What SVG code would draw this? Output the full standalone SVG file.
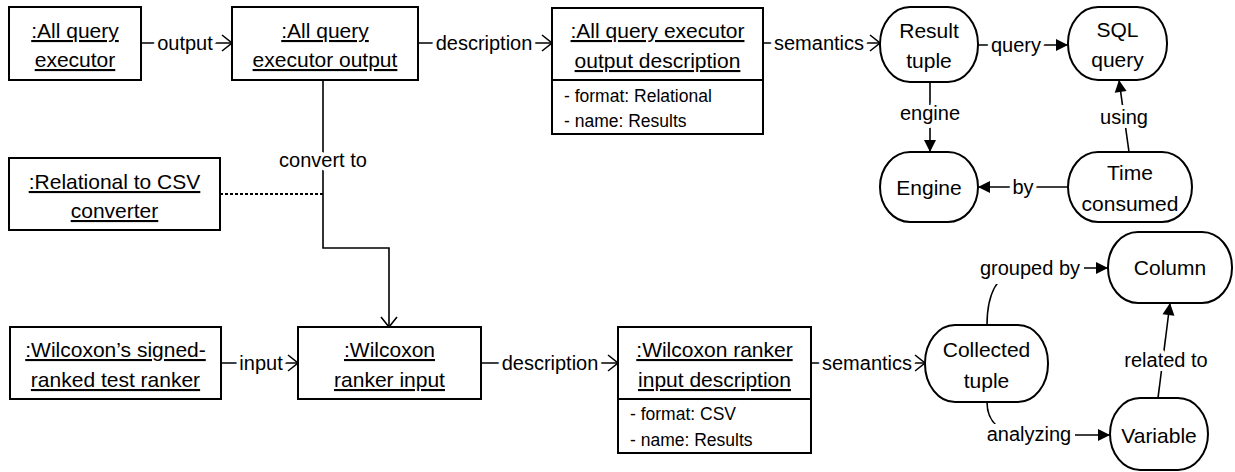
<svg xmlns="http://www.w3.org/2000/svg" width="1235" height="472" viewBox="0 0 1235 472">
<style>
.box{fill:#fff;stroke:#000;stroke-width:2}
.t{font-family:"Liberation Sans",Arial,sans-serif;font-size:21px;text-anchor:middle;fill:#000}
.u{text-decoration:underline}
.a{font-family:"Liberation Sans",Arial,sans-serif;font-size:17.5px;fill:#000}
.c{fill:none;stroke:#000;stroke-width:1.6}
.open{marker-end:url(#open)}
.fill{marker-end:url(#filled)}
.lbl{font-family:"Liberation Sans",Arial,sans-serif;font-size:20px;text-anchor:middle;fill:#000;stroke:#fff;stroke-width:8;paint-order:stroke;stroke-linejoin:round}
</style>
<defs>
<marker id="open" markerUnits="userSpaceOnUse" markerWidth="12" markerHeight="18" refX="10" refY="8" orient="auto" overflow="visible">
<path d="M0,0 L10,8 L0,16" fill="none" stroke="#000" stroke-width="1.6"/>
</marker>
<marker id="filled" markerUnits="userSpaceOnUse" markerWidth="13" markerHeight="13" refX="12" refY="6" orient="auto" overflow="visible">
<path d="M0,0 L12,6 L0,12 z" fill="#000"/>
</marker>
</defs>
<rect width="1235" height="472" fill="#fff"/>

<g id="connectors">
<line class="c open" x1="141" y1="43" x2="232" y2="43"/>
<text class="lbl" x="185" y="50">output</text>
<line class="c open" x1="418" y1="43" x2="552" y2="43"/>
<text class="lbl" x="484" y="50">description</text>
<line class="c open" x1="763" y1="43" x2="880" y2="43"/>
<text class="lbl" x="819" y="50">semantics</text>
<line class="c fill" x1="978" y1="45" x2="1068" y2="45"/>
<text class="lbl" x="1016" y="52">query</text>
<line class="c fill" x1="930" y1="82" x2="930" y2="152"/>
<text class="lbl" x="930" y="120">engine</text>
<line class="c fill" x1="1129" y1="152" x2="1119" y2="80"/>
<text class="lbl" x="1124" y="124">using</text>
<line class="c fill" x1="1068" y1="187" x2="978" y2="187"/>
<text class="lbl" x="1023" y="194">by</text>
<polyline class="c open" points="323,80 323,248 389,248 389,327"/>
<text class="lbl" x="323" y="167">convert to</text>
<line x1="220" y1="194" x2="323" y2="194" stroke="#000" stroke-width="2" stroke-dasharray="3,2"/>
<line class="c open" x1="221" y1="363" x2="298" y2="363"/>
<text class="lbl" x="261" y="370">input</text>
<line class="c open" x1="481" y1="363" x2="618" y2="363"/>
<text class="lbl" x="550" y="370">description</text>
<line class="c open" x1="811" y1="363" x2="925" y2="363"/>
<text class="lbl" x="867" y="370">semantics</text>
<path class="c fill" d="M987,325 C987,290 1000,268 1030,268 L1108,268"/>
<rect x="976" y="258" width="108" height="26" fill="#fff"/>
<text class="lbl" x="1030" y="275">grouped by</text>
<path class="c fill" d="M987,402 C987,422 1000,435 1030,435 L1110,435"/>
<rect x="983" y="424" width="92" height="24" fill="#fff"/>
<text class="lbl" x="1029" y="441">analyzing</text>
<line class="c fill" x1="1158" y1="398" x2="1170" y2="303"/>
<text class="lbl" x="1166" y="367">related to</text>
</g>

<g id="n1"><rect class="box" x="9" y="7" width="132" height="73"/>
<text class="t u" x="75" y="38">:All query</text><text class="t u" x="75" y="67">executor</text></g>
<g id="n2"><rect class="box" x="232" y="7" width="186" height="73"/>
<text class="t u" x="325" y="38">:All query</text><text class="t u" x="325" y="67">executor output</text></g>
<g id="n3"><rect class="box" x="552" y="8" width="211" height="126"/>
<line x1="552" y1="80" x2="763" y2="80" stroke="#000" stroke-width="2"/>
<text class="t u" x="657.5" y="38">:All query executor</text><text class="t u" x="657.5" y="68">output description</text>
<text class="a" x="564" y="102">- format: Relational</text><text class="a" x="564" y="127">- name: Results</text></g>
<g id="n4"><rect class="box" x="880" y="7" width="98" height="75" rx="30" ry="37"/>
<text class="t" x="929" y="38">Result</text><text class="t" x="929" y="68">tuple</text></g>
<g id="n5"><rect class="box" x="1068" y="7" width="99" height="73" rx="30" ry="36"/>
<text class="t" x="1117.5" y="37">SQL</text><text class="t" x="1117.5" y="67">query</text></g>
<g id="n6"><rect class="box" x="880" y="152" width="98" height="70" rx="30" ry="35"/>
<text class="t" x="929" y="195">Engine</text></g>
<g id="n7"><rect class="box" x="1068" y="152" width="124" height="70" rx="30" ry="35"/>
<text class="t" x="1130" y="180">Time</text><text class="t" x="1130" y="211">consumed</text></g>
<g id="n8"><rect class="box" x="9" y="158" width="211" height="72"/>
<text class="t u" x="114.5" y="189">:Relational to CSV</text><text class="t u" x="114.5" y="218">converter</text></g>
<g id="n9"><rect class="box" x="10" y="327" width="211" height="72"/>
<text class="t u" x="115.5" y="357">:Wilcoxon’s signed-</text><text class="t u" x="115.5" y="387">ranked test ranker</text></g>
<g id="n10"><rect class="box" x="298" y="327" width="183" height="72"/>
<text class="t u" x="389.5" y="357">:Wilcoxon</text><text class="t u" x="389.5" y="387">ranker input</text></g>
<g id="n11"><rect class="box" x="618" y="327" width="193" height="126"/>
<line x1="618" y1="399" x2="811" y2="399" stroke="#000" stroke-width="2"/>
<text class="t u" x="714.5" y="357">:Wilcoxon ranker</text><text class="t u" x="714.5" y="387">input description</text>
<text class="a" x="630" y="420">- format: CSV</text><text class="a" x="630" y="446">- name: Results</text></g>
<g id="n12"><rect class="box" x="925" y="325" width="123" height="77" rx="30" ry="38"/>
<text class="t" x="986.5" y="357">Collected</text><text class="t" x="986.5" y="388">tuple</text></g>
<g id="n13"><rect class="box" x="1108" y="232" width="124" height="71" rx="30" ry="35"/>
<text class="t" x="1170" y="275">Column</text></g>
<g id="n14"><rect class="box" x="1110" y="398" width="98" height="72" rx="30" ry="36"/>
<text class="t" x="1159" y="443">Variable</text></g>
</svg>
